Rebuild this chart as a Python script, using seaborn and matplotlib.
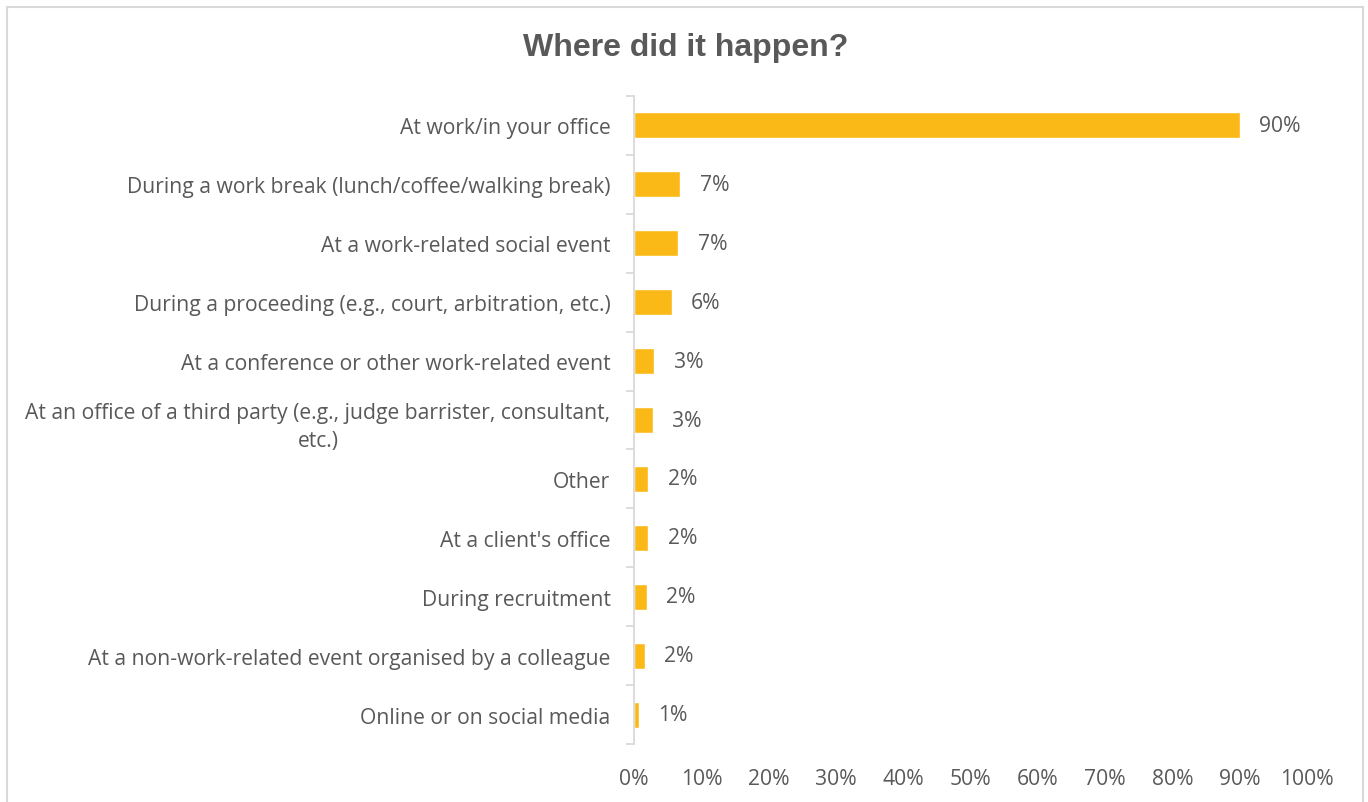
import matplotlib
matplotlib.use("Agg")
import matplotlib.pyplot as plt
from matplotlib.patches import Rectangle
import seaborn as sns
import pandas as pd
import numpy as np

categories = [
    "At work/in your office",
    "During a work break (lunch/coffee/walking break)",
    "At a work-related social event",
    "During a proceeding (e.g., court, arbitration, etc.)",
    "At a conference or other work-related event",
    "At an office of a third party (e.g., judge barrister, consultant,\netc.)",
    "Other",
    "At a client's office",
    "During recruitment",
    "At a non-work-related event organised by a colleague",
    "Online or on social media",
]
shares = [90.0, 6.9, 6.6, 5.6, 3.0, 2.8, 2.1, 2.1, 1.9, 1.6, 0.7]
x_ticks = list(range(0, 101, 10))

bar_color = "#FBB917"
text_color = "#595959"
line_color = "#D9D9D9"
label_size = 15.2

sns.set_theme(style="white")
plt.rcParams["font.family"] = ["Open Sans", "DejaVu Sans"]

df = pd.DataFrame({"place": categories, "share": shares})

fig = plt.figure(figsize=(13.68, 8.03), dpi=100)
ax = fig.add_axes([0.4635, 0.0722, 0.9554 - 0.4635, 0.8792 - 0.0722])

sns.barplot(data=df, x="share", y="place", orient="h", color=bar_color,
            width=0.44, saturation=1, ax=ax)

ax.set_xlim(0, 100)
ax.set_ylim(len(categories) - 0.5, -0.5)
ax.set_xlabel("")
ax.set_ylabel("")

ax.set_xticks(x_ticks)
ax.set_xticklabels([f"{t}%" for t in x_ticks])
ax.tick_params(axis="x", length=0, pad=17, labelsize=label_size,
               labelcolor=text_color)

ax.set_yticks(range(len(categories)))
ax.set_yticklabels(categories, multialignment="center", linespacing=1.45)
ax.set_yticks(np.arange(-0.5, len(categories)), minor=True)
ax.tick_params(axis="y", which="major", length=0, pad=17, labelsize=label_size,
               labelcolor=text_color)
ax.tick_params(axis="y", which="minor", left=True, length=6, width=1.3,
               color=line_color)

for side in ["top", "right", "bottom"]:
    ax.spines[side].set_visible(False)
ax.spines["left"].set_color(line_color)
ax.spines["left"].set_linewidth(1.3)

for cont in ax.containers:
    ax.bar_label(cont, labels=[f"{v:.0f}%" for v in shares], padding=14,
                 fontsize=label_size, color=text_color)

fig.text(0.5015, 0.94, "Where did it happen?", ha="center", va="center",
         fontsize=23, fontweight="bold", color=text_color,
         family=["Liberation Sans", "DejaVu Sans"])

fig.patches.append(Rectangle((6.5 / 1368, -0.05), (1363 - 6.5) / 1368,
                             1.05 - 7.5 / 803, transform=fig.transFigure,
                             fill=False, edgecolor=line_color, linewidth=1.5))

fig.savefig("out.png", dpi=100, facecolor="white")
